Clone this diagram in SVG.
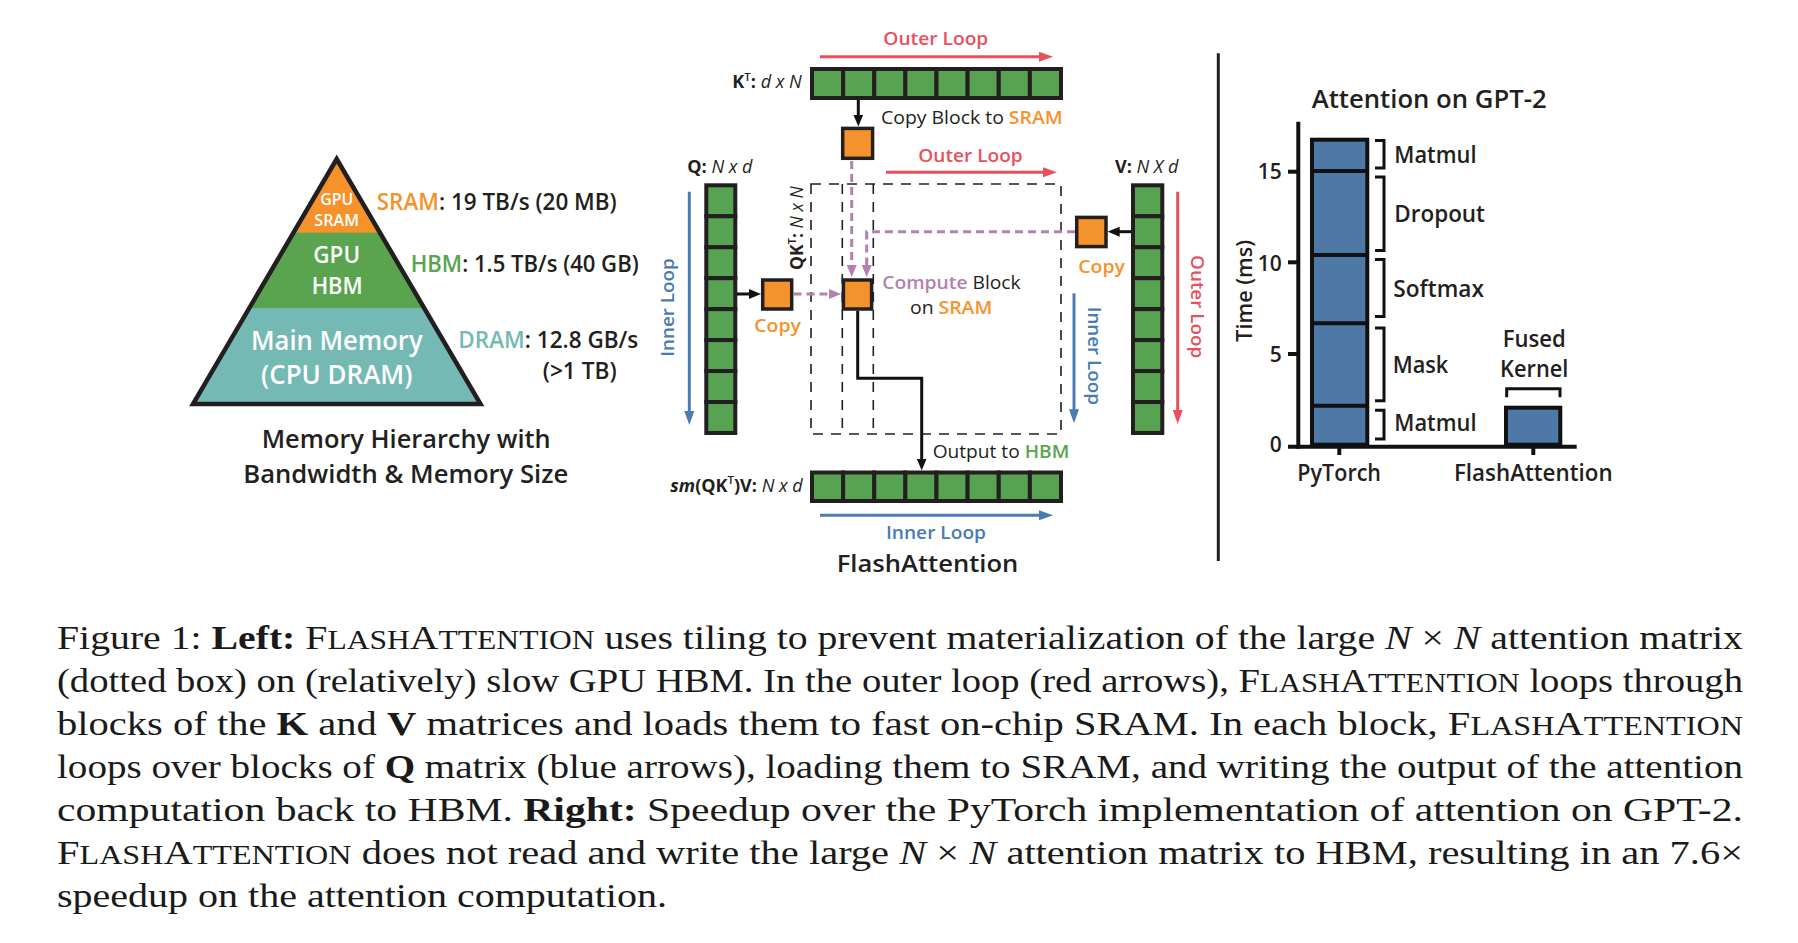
<svg xmlns="http://www.w3.org/2000/svg" width="1798" height="943" viewBox="0 0 1798 943">
<style>
text{font-family:"Open Sans","Noto Sans",sans-serif;fill:#231f20;font-weight:600}
.w{fill:#fff}
.or{fill:#f5922a}
.gr{fill:#5aa44f}
.tl{fill:#74b9b3}
.rd{fill:#e8515c}
.bl{fill:#4a7bb2}
.pu{fill:#b57fb0}
.reg{font-weight:400}
.it{font-style:italic;font-weight:400}
.cell{fill:#58a352;stroke:#231f20;stroke-width:4}
.ob{fill:#f4922b;stroke:#231f20;stroke-width:3.5}
.cap{font-family:"Liberation Serif","Times New Roman",serif;font-weight:400;font-size:34px;fill:#1a1a1a}
.b{font-weight:700}
.sc{font-size:27px}
.mi{font-style:italic}
.ln{fill:none;stroke-width:3}
</style>
<defs>
<clipPath id="tri"><polygon points="336.7,159 193,404 480.5,404"/></clipPath>
<marker id="aK" viewBox="0 0 12 10" refX="2" refY="5" markerWidth="12" markerHeight="10" markerUnits="userSpaceOnUse" orient="auto"><path d="M0,0L12,5L0,10z" fill="#111"/></marker>
<marker id="aR" viewBox="0 0 14 10" refX="2" refY="5" markerWidth="14" markerHeight="10" markerUnits="userSpaceOnUse" orient="auto"><path d="M0,0L14,5L0,10z" fill="#e8515c"/></marker>
<marker id="aB" viewBox="0 0 14 10" refX="2" refY="5" markerWidth="14" markerHeight="10" markerUnits="userSpaceOnUse" orient="auto"><path d="M0,0L14,5L0,10z" fill="#4a7bb2"/></marker>
<marker id="aP" viewBox="0 0 12 10" refX="2" refY="5" markerWidth="12" markerHeight="10" markerUnits="userSpaceOnUse" orient="auto"><path d="M0,0L12,5L0,10z" fill="#b57fb0"/></marker>
</defs>
<rect width="1798" height="943" fill="#fff"/>

<g id="pyramid">
<g clip-path="url(#tri)">
<rect x="180" y="150" width="320" height="83" fill="#f5922a"/>
<rect x="180" y="232.7" width="320" height="75.5" fill="#5aa44f"/>
<rect x="180" y="308" width="320" height="100" fill="#74b9b3"/>
</g>
<polygon points="336.7,159 193,404 480.5,404" fill="none" stroke="#231f20" stroke-width="4.5"/>
<text class="w" x="336.7" y="205" font-size="16" text-anchor="middle" textLength="33" lengthAdjust="spacingAndGlyphs">GPU</text>
<text class="w" x="336.7" y="226" font-size="16" text-anchor="middle" textLength="44.7" lengthAdjust="spacingAndGlyphs">SRAM</text>
<text class="w" x="336.7" y="263.3" font-size="23" text-anchor="middle" textLength="46.7" lengthAdjust="spacingAndGlyphs">GPU</text>
<text class="w" x="337.2" y="294" font-size="23" text-anchor="middle" textLength="51" lengthAdjust="spacingAndGlyphs">HBM</text>
<text class="w" x="336.8" y="350" font-size="26.5" text-anchor="middle" textLength="171.7" lengthAdjust="spacingAndGlyphs">Main Memory</text>
<text class="w" x="336.7" y="383.5" font-size="26.5" text-anchor="middle" textLength="151.3" lengthAdjust="spacingAndGlyphs">(CPU DRAM)</text>
</g>
<g id="memory-labels">
<text x="376.7" y="210" font-size="23" textLength="240" lengthAdjust="spacingAndGlyphs"><tspan class="or">SRAM</tspan>: 19 TB/s (20 MB)</text>
<text x="410.7" y="272.3" font-size="23" textLength="228" lengthAdjust="spacingAndGlyphs"><tspan class="gr">HBM</tspan>: 1.5 TB/s (40 GB)</text>
<text x="458.3" y="348.3" font-size="23" textLength="180" lengthAdjust="spacingAndGlyphs"><tspan class="tl">DRAM</tspan>: 12.8 GB/s</text>
<text x="542.7" y="379.3" font-size="23" textLength="74" lengthAdjust="spacingAndGlyphs">(&gt;1 TB)</text>
<text x="406.2" y="448.3" font-size="25" text-anchor="middle" textLength="289" lengthAdjust="spacingAndGlyphs">Memory Hierarchy with</text>
<text x="405.8" y="482.7" font-size="25" text-anchor="middle" textLength="325" lengthAdjust="spacingAndGlyphs">Bandwidth &amp; Memory Size</text>
</g>

<g id="KT">
<rect class="cell" x="812" y="69" width="31.125" height="29"/>
<rect class="cell" x="843.125" y="69" width="31.125" height="29"/>
<rect class="cell" x="874.25" y="69" width="31.125" height="29"/>
<rect class="cell" x="905.375" y="69" width="31.125" height="29"/>
<rect class="cell" x="936.5" y="69" width="31.125" height="29"/>
<rect class="cell" x="967.625" y="69" width="31.125" height="29"/>
<rect class="cell" x="998.75" y="69" width="31.125" height="29"/>
<rect class="cell" x="1029.875" y="69" width="31.125" height="29"/>
<text x="801.7" y="88.3" font-size="18" text-anchor="end"><tspan font-weight="700">K</tspan><tspan font-size="11.5" dy="-7.5">T</tspan><tspan dy="7.5" font-weight="700">: </tspan><tspan class="it">d x N</tspan></text>
</g>

<g id="Q">
<rect class="cell" x="706.3" y="185.3" width="29" height="30.96"/>
<rect class="cell" x="706.3" y="216.26" width="29" height="30.96"/>
<rect class="cell" x="706.3" y="247.22" width="29" height="30.96"/>
<rect class="cell" x="706.3" y="278.18" width="29" height="30.96"/>
<rect class="cell" x="706.3" y="309.14" width="29" height="30.96"/>
<rect class="cell" x="706.3" y="340.1" width="29" height="30.96"/>
<rect class="cell" x="706.3" y="371.06" width="29" height="30.96"/>
<rect class="cell" x="706.3" y="402.02" width="29" height="30.96"/>
<text x="687.3" y="172.7" font-size="18"><tspan font-weight="700">Q: </tspan><tspan class="it">N x d</tspan></text>
</g>

<g id="V">
<rect class="cell" x="1133" y="185.3" width="29.3" height="30.96"/>
<rect class="cell" x="1133" y="216.26" width="29.3" height="30.96"/>
<rect class="cell" x="1133" y="247.22" width="29.3" height="30.96"/>
<rect class="cell" x="1133" y="278.18" width="29.3" height="30.96"/>
<rect class="cell" x="1133" y="309.14" width="29.3" height="30.96"/>
<rect class="cell" x="1133" y="340.1" width="29.3" height="30.96"/>
<rect class="cell" x="1133" y="371.06" width="29.3" height="30.96"/>
<rect class="cell" x="1133" y="402.02" width="29.3" height="30.96"/>
<text x="1115" y="172.7" font-size="18"><tspan font-weight="700">V: </tspan><tspan class="it">N X d</tspan></text>
</g>

<g id="output">
<rect class="cell" x="812" y="472.5" width="31.125" height="28.5"/>
<rect class="cell" x="843.125" y="472.5" width="31.125" height="28.5"/>
<rect class="cell" x="874.25" y="472.5" width="31.125" height="28.5"/>
<rect class="cell" x="905.375" y="472.5" width="31.125" height="28.5"/>
<rect class="cell" x="936.5" y="472.5" width="31.125" height="28.5"/>
<rect class="cell" x="967.625" y="472.5" width="31.125" height="28.5"/>
<rect class="cell" x="998.75" y="472.5" width="31.125" height="28.5"/>
<rect class="cell" x="1029.875" y="472.5" width="31.125" height="28.5"/>
<text x="802.7" y="491.7" font-size="18" text-anchor="end"><tspan font-weight="700" font-style="italic">sm</tspan><tspan font-weight="700">(QK</tspan><tspan font-size="11.5" dy="-7.5">T</tspan><tspan dy="7.5" font-weight="700">)V: </tspan><tspan class="it">N x d</tspan></text>
</g>

<g id="QKT">
<rect x="811" y="184" width="250" height="250" fill="none" stroke="#231f20" stroke-width="1.6" stroke-dasharray="10,8"/>
<line x1="842.3" y1="184" x2="842.3" y2="434" stroke="#231f20" stroke-width="1.6" stroke-dasharray="10,8"/>
<line x1="873.3" y1="184" x2="873.3" y2="434" stroke="#231f20" stroke-width="1.6" stroke-dasharray="10,8"/>
<text transform="translate(803,270) rotate(-90)" font-size="17.5"><tspan font-weight="700">QK</tspan><tspan font-size="11.5" dy="-7.5">T</tspan><tspan dy="7.5" font-weight="700">: </tspan><tspan class="it">N x N</tspan></text>
</g>

<g id="sram-K"><rect class="ob" x="842.7" y="128.4" width="29.9" height="29.9"/></g>
<g id="sram-Q"><rect class="ob" x="762.7" y="280" width="29" height="29"/>
<text class="or" x="754.3" y="331.7" font-size="18.5" textLength="46.7" lengthAdjust="spacingAndGlyphs">Copy</text></g>
<g id="sram-compute"><rect class="ob" x="843.4" y="280" width="28.2" height="29"/>
<text x="882.3" y="289.3" font-size="18.5" textLength="138.4" lengthAdjust="spacingAndGlyphs"><tspan class="pu">Compute</tspan><tspan class="reg"> Block</tspan></text>
<text x="910" y="314.3" font-size="18.5" textLength="82.3" lengthAdjust="spacingAndGlyphs"><tspan class="reg">on </tspan><tspan class="or">SRAM</tspan></text></g>
<g id="sram-V"><rect class="ob" x="1076.7" y="217.4" width="29.3" height="29.2"/>
<text class="or" x="1078.3" y="273.3" font-size="18.5" textLength="46.7" lengthAdjust="spacingAndGlyphs">Copy</text></g>

<g id="loop-labels">
<text class="rd" x="883.3" y="45" font-size="18.5" textLength="105" lengthAdjust="spacingAndGlyphs">Outer Loop</text>
<text class="rd" x="918.3" y="161.7" font-size="18.5" textLength="104.4" lengthAdjust="spacingAndGlyphs">Outer Loop</text>
<text x="881" y="124" font-size="18.5" textLength="181.7" lengthAdjust="spacingAndGlyphs"><tspan class="reg">Copy Block to </tspan><tspan class="or">SRAM</tspan></text>
<text x="932.7" y="458.3" font-size="18.5" textLength="136.6" lengthAdjust="spacingAndGlyphs"><tspan class="reg">Output to </tspan><tspan class="gr">HBM</tspan></text>
<text class="bl" x="886" y="539.3" font-size="18.5" textLength="100" lengthAdjust="spacingAndGlyphs">Inner Loop</text>
<text class="bl" transform="translate(673.5,307.5) rotate(-90)" font-size="18.5" text-anchor="middle" textLength="98.4" lengthAdjust="spacingAndGlyphs">Inner Loop</text>
<text class="rd" transform="translate(1191,306.7) rotate(90)" font-size="18.5" text-anchor="middle" textLength="103.3" lengthAdjust="spacingAndGlyphs">Outer Loop</text>
<text class="bl" transform="translate(1087.5,355.8) rotate(90)" font-size="18.5" text-anchor="middle" textLength="98.3" lengthAdjust="spacingAndGlyphs">Inner Loop</text>
<text x="927.5" y="571.7" font-size="23.5" font-weight="700" text-anchor="middle" textLength="181.7" lengthAdjust="spacingAndGlyphs">FlashAttention</text>
</g>

<g id="connectors">
<line class="ln" x1="820" y1="56.7" x2="1041" y2="56.7" stroke="#e8515c" marker-end="url(#aR)"/>
<line class="ln" x1="886" y1="172.3" x2="1045" y2="172.3" stroke="#e8515c" marker-end="url(#aR)"/>
<line class="ln" x1="1177.7" y1="191.7" x2="1177.7" y2="412" stroke="#e8515c" marker-end="url(#aR)"/>
<line class="ln" x1="820" y1="515.3" x2="1041" y2="515.3" stroke="#4a7bb2" marker-end="url(#aB)"/>
<line class="ln" x1="689.3" y1="191.7" x2="689.3" y2="413" stroke="#4a7bb2" marker-end="url(#aB)"/>
<line class="ln" x1="1074" y1="293.3" x2="1074" y2="411.3" stroke="#4a7bb2" marker-end="url(#aB)"/>
<line class="ln" x1="858.3" y1="100" x2="858.3" y2="116.5" stroke="#111" marker-end="url(#aK)"/>
<line class="ln" x1="737" y1="294" x2="751" y2="294" stroke="#111" marker-end="url(#aK)"/>
<line class="ln" x1="1131" y1="231.7" x2="1117.7" y2="231.7" stroke="#111" marker-end="url(#aK)"/>
<path class="ln" d="M857.7,310.7V378.3H921.7V460.5" stroke="#111" marker-end="url(#aK)"/>
<line class="ln" x1="851.7" y1="161" x2="851.7" y2="267" stroke="#b57fb0" stroke-dasharray="8,5" marker-end="url(#aP)"/>
<path class="ln" d="M1075,231.7H866.7V267" stroke="#b57fb0" stroke-dasharray="8,5" marker-end="url(#aP)"/>
<line class="ln" x1="793.5" y1="294" x2="831" y2="294" stroke="#b57fb0" stroke-dasharray="8,5" marker-end="url(#aP)"/>
</g>

<g id="divider"><line x1="1218.3" y1="53.3" x2="1218.3" y2="561" stroke="#231f20" stroke-width="3"/></g>

<g id="chart">
<text x="1311.7" y="108.3" font-size="25" textLength="235" lengthAdjust="spacingAndGlyphs">Attention on GPT-2</text>
<g stroke="#111" stroke-width="4" fill="none">
<line x1="1298.3" y1="121.7" x2="1298.3" y2="448.7"/>
<line x1="1288" y1="446.7" x2="1576.7" y2="446.7"/>
<line x1="1288" y1="171.7" x2="1298" y2="171.7"/>
<line x1="1288" y1="262.3" x2="1298" y2="262.3"/>
<line x1="1288" y1="354" x2="1298" y2="354"/>
<line x1="1339.3" y1="446.7" x2="1339.3" y2="455"/>
<line x1="1533.3" y1="446.7" x2="1533.3" y2="455"/>
</g>
<g id="bar-pytorch">
<rect x="1312" y="139.7" width="55.3" height="305" fill="#4e79a7" stroke="#111" stroke-width="4"/>
<g stroke="#111" stroke-width="4">
<line x1="1312" y1="171" x2="1367.3" y2="171"/>
<line x1="1312" y1="255" x2="1367.3" y2="255"/>
<line x1="1312" y1="323.3" x2="1367.3" y2="323.3"/>
<line x1="1312" y1="405.7" x2="1367.3" y2="405.7"/>
</g>
</g>
<g id="bar-flash"><rect x="1506" y="407.7" width="54.3" height="37" fill="#4e79a7" stroke="#111" stroke-width="4"/></g>
<g fill="none" stroke="#111" stroke-width="3">
<path d="M1375,140.5H1384V168H1375"/>
<path d="M1375,177H1384V250.5H1375"/>
<path d="M1375,259.5H1384V316.5H1375"/>
<path d="M1375,328H1384V400.7H1375"/>
<path d="M1375,410.3H1384V439H1375"/>
<path d="M1506.7,397.3V388.8H1560V397.3"/>
</g>
<text x="1394.3" y="162.7" font-size="23" textLength="82.3" lengthAdjust="spacingAndGlyphs">Matmul</text>
<text x="1394.3" y="222.3" font-size="23" textLength="90.7" lengthAdjust="spacingAndGlyphs">Dropout</text>
<text x="1393.3" y="296.7" font-size="23" textLength="90.7" lengthAdjust="spacingAndGlyphs">Softmax</text>
<text x="1392.7" y="373.3" font-size="23" textLength="55.6" lengthAdjust="spacingAndGlyphs">Mask</text>
<text x="1394.3" y="431" font-size="23" textLength="82.3" lengthAdjust="spacingAndGlyphs">Matmul</text>
<text x="1534.2" y="347.3" font-size="23" text-anchor="middle" textLength="63" lengthAdjust="spacingAndGlyphs">Fused</text>
<text x="1534.2" y="377.3" font-size="23" text-anchor="middle" textLength="68.3" lengthAdjust="spacingAndGlyphs">Kernel</text>
<text x="1281.7" y="179.3" font-size="21" text-anchor="end">15</text>
<text x="1281.7" y="270.7" font-size="21" text-anchor="end">10</text>
<text x="1281.7" y="361.7" font-size="21" text-anchor="end">5</text>
<text x="1281.7" y="451.5" font-size="21" text-anchor="end">0</text>
<text transform="translate(1252,290.8) rotate(-90)" font-size="21" text-anchor="middle" textLength="101.7" lengthAdjust="spacingAndGlyphs">Time (ms)</text>
<text x="1339.2" y="480.7" font-size="23" text-anchor="middle" textLength="83.7" lengthAdjust="spacingAndGlyphs">PyTorch</text>
<text x="1533.3" y="480.7" font-size="23" text-anchor="middle" textLength="158.7" lengthAdjust="spacingAndGlyphs">FlashAttention</text>
</g>

<g id="caption">
<text class="cap" x="57" y="649" textLength="1686" lengthAdjust="spacingAndGlyphs">Figure 1: <tspan class="b">Left:</tspan> F<tspan class="sc">LASH</tspan>A<tspan class="sc">TTENTION</tspan> uses tiling to prevent materialization of the large <tspan class="mi">N</tspan> × <tspan class="mi">N</tspan> attention matrix</text>
<text class="cap" x="57" y="692" textLength="1686" lengthAdjust="spacingAndGlyphs">(dotted box) on (relatively) slow GPU HBM. In the outer loop (red arrows), F<tspan class="sc">LASH</tspan>A<tspan class="sc">TTENTION</tspan> loops through</text>
<text class="cap" x="57" y="735" textLength="1686" lengthAdjust="spacingAndGlyphs">blocks of the <tspan class="b">K</tspan> and <tspan class="b">V</tspan> matrices and loads them to fast on-chip SRAM. In each block, F<tspan class="sc">LASH</tspan>A<tspan class="sc">TTENTION</tspan></text>
<text class="cap" x="57" y="778" textLength="1686" lengthAdjust="spacingAndGlyphs">loops over blocks of <tspan class="b">Q</tspan> matrix (blue arrows), loading them to SRAM, and writing the output of the attention</text>
<text class="cap" x="57" y="821" textLength="1686" lengthAdjust="spacingAndGlyphs">computation back to HBM. <tspan class="b">Right:</tspan> Speedup over the PyTorch implementation of attention on GPT-2.</text>
<text class="cap" x="57" y="864" textLength="1686" lengthAdjust="spacingAndGlyphs">F<tspan class="sc">LASH</tspan>A<tspan class="sc">TTENTION</tspan> does not read and write the large <tspan class="mi">N</tspan> × <tspan class="mi">N</tspan> attention matrix to HBM, resulting in an 7.6×</text>
<text class="cap" x="57" y="907" textLength="610" lengthAdjust="spacingAndGlyphs">speedup on the attention computation.</text>
</g>
</svg>
